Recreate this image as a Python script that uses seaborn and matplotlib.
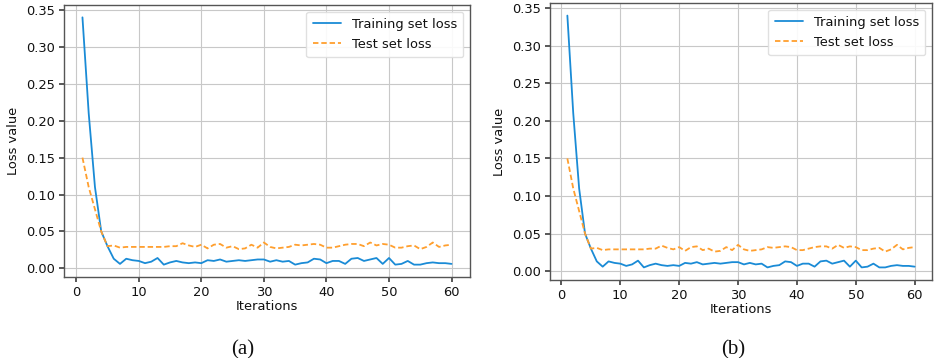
import matplotlib
matplotlib.use("Agg")
import matplotlib.pyplot as plt
import numpy as np
import seaborn as sns

# loss curves (both panels look identical)
iterations = list(range(1, 61))
train_loss = [0.340, 0.210, 0.110, 0.050, 0.030, 0.013, 0.006, 0.013, 0.011, 0.010,
              0.007, 0.009, 0.014, 0.005, 0.008, 0.010, 0.008, 0.007, 0.008, 0.007,
              0.011, 0.010, 0.012, 0.009, 0.010, 0.011, 0.010, 0.011, 0.012, 0.012,
              0.009, 0.011, 0.009, 0.010, 0.005, 0.007, 0.008, 0.013, 0.012, 0.007,
              0.010, 0.010, 0.006, 0.013, 0.014, 0.010, 0.012, 0.014, 0.006, 0.014,
              0.005, 0.006, 0.010, 0.005, 0.005, 0.007, 0.008, 0.007, 0.007, 0.006]
test_loss = [0.150, 0.110, 0.080, 0.050, 0.030, 0.031, 0.028, 0.029, 0.029, 0.029,
             0.029, 0.029, 0.029, 0.029, 0.030, 0.030, 0.034, 0.031, 0.029, 0.032,
             0.027, 0.032, 0.033, 0.028, 0.030, 0.026, 0.027, 0.032, 0.028, 0.035,
             0.029, 0.027, 0.028, 0.029, 0.032, 0.031, 0.032, 0.033, 0.032, 0.028,
             0.028, 0.030, 0.032, 0.033, 0.033, 0.030, 0.035, 0.031, 0.033, 0.032,
             0.028, 0.028, 0.030, 0.031, 0.026, 0.029, 0.035, 0.029, 0.031, 0.032]
panel_labels = ["(a)", "(b)"]

sns.set_theme(style="whitegrid")
plt.rcParams["font.family"] = ["DejaVu Sans"]
plt.rcParams["text.color"] = "#111111"
plt.rcParams["axes.labelcolor"] = "#111111"
plt.rcParams["xtick.color"] = "#111111"
plt.rcParams["ytick.color"] = "#111111"

fig = plt.figure(figsize=(9.34, 3.58), dpi=100)
fig.patch.set_facecolor("white")

# axes boxes in figure pixels (left, top, right, bottom) and caption x
boxes = [(64, 5, 470, 277), (550, 3, 932, 280)]
caption_x = [243, 733]
W, H = 934, 358
FS = 9.4

for (l, t, r, b), lab, cx in zip(boxes, panel_labels, caption_x):
    ax = fig.add_axes([l / W, (H - b) / H, (r - l) / W, (b - t) / H])
    sns.lineplot(x=iterations, y=train_loss, ax=ax, color="#1a8bd6", lw=1.3,
                 label="Training set loss")
    sns.lineplot(x=iterations, y=test_loss, ax=ax, color="#ff9f2e", lw=1.3,
                 label="Test set loss")
    ax.lines[1].set_dashes((3, 1.6))
    ax.set_xticks([0, 10, 20, 30, 40, 50, 60])
    ax.set_yticks(np.arange(0, 0.36, 0.05))
    ax.yaxis.set_major_formatter(matplotlib.ticker.FormatStrFormatter("%.2f"))
    ax.tick_params(labelsize=FS, length=3.5, color="#444444", left=True, bottom=True, pad=3)
    ax.set_xlabel("Iterations", fontsize=FS, labelpad=1)
    ax.set_ylabel("Loss value", fontsize=FS, labelpad=4)
    ax.grid(True, color="#c8c8c8", lw=0.8)
    ax.set_facecolor("white")
    for s in ax.spines.values():
        s.set_visible(True)
        s.set_color("#555555")
        s.set_linewidth(1.0)
    leg = ax.legend(loc="upper right", fontsize=FS, frameon=True, fancybox=True,
                    framealpha=0.9, borderpad=0.5, handlelength=2.2)
    leg.get_frame().set_edgecolor("#dddddd")
    leg.get_lines()[1].set_dashes((3, 1.6))
    fig.text(cx / W, (H - 350) / H, lab, ha="center", va="center", fontsize=15,
             family="Liberation Serif")

fig.savefig("out.png", dpi=100)
